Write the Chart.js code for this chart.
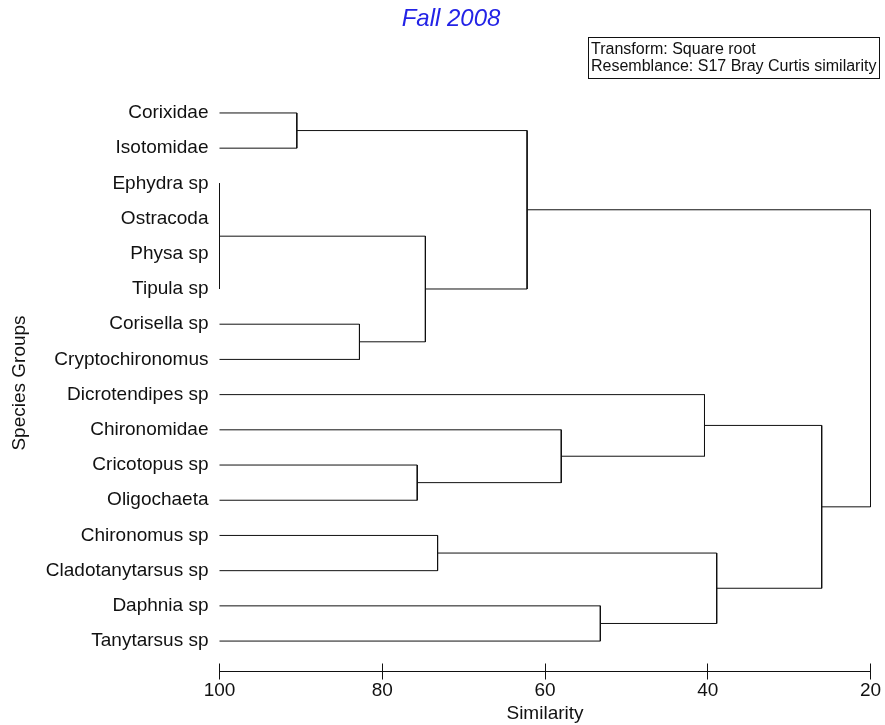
<!DOCTYPE html>
<html>
<head>
<meta charset="utf-8">
<title>Fall 2008</title>
<script src="https://cdn.jsdelivr.net/npm/chart.js@4"></script>
<style>
  html, body { margin: 0; padding: 0; background: #fff; }
  #grafico-wrap { width: 885px; height: 725px; position: relative; }
</style>
</head>
<body>
<div id="grafico-wrap"><canvas id="dendrograma"></canvas></div>
<script>
// folhas do dendrograma, de cima para baixo
const especies = [
    'Corixidae', 'Isotomidae', 'Ephydra sp', 'Ostracoda', 'Physa sp', 'Tipula sp',
    'Corisella sp', 'Cryptochironomus', 'Dicrotendipes sp', 'Chironomidae',
    'Cricotopus sp', 'Oligochaeta', 'Chironomus sp', 'Cladotanytarsus sp',
    'Daphnia sp', 'Tanytarsus sp'
];

// cada fusão junta dois nós (índice < 16 = folha, senão = fusão 16 + k)
const filhoEsq = [2, 4, 16, 0, 6, 18, 19, 10, 9, 8, 12, 14, 26, 25, 22];
const filhoDir = [3, 5, 17, 1, 7, 20, 21, 11, 23, 24, 13, 15, 27, 28, 29];
const similaridade = [100, 100, 100, 90.5, 82.8, 74.7, 62.2, 75.7, 58.0, 40.4, 73.2, 53.2, 38.9, 26.0, 20.0];

const ticksSimilaridade = [100, 80, 60, 40, 20];
const tituloGrafico = 'Fall 2008';
const notaLinhas = ['Transform: Square root', 'Resemblance: S17 Bray Curtis similarity'];

const FONTE = 'Arial, "Liberation Sans", sans-serif';

function montarRamos() {
    const n = especies.length;
    const posY = especies.map((_, i) => i);
    const altura = especies.map(() => 100);
    const ramos = [];

    for (let k = 0; k < similaridade.length; k++) {
        const a = filhoEsq[k];
        const b = filhoDir[k];
        const s = similaridade[k];
        ramos.push({
            label: 'fusao' + k,
            data: [
                { x: altura[a], y: posY[a] },
                { x: s, y: posY[a] },
                { x: s, y: posY[b] },
                { x: altura[b], y: posY[b] }
            ],
            showLine: true,
            borderColor: '#111',
            borderWidth: 1,
            pointRadius: 0,
            tension: 0,
            clip: false
        });
        posY[n + k] = (posY[a] + posY[b]) / 2;
        altura[n + k] = s;
    }
    return ramos;
}

// título e caixa com a transformação usada
const cabecalho = {
    id: 'cabecalho',
    afterDraw(chart) {
        const ctx = chart.ctx;
        ctx.save();
        ctx.fillStyle = '#2323e6';
        ctx.font = 'italic 24px ' + FONTE;
        ctx.textAlign = 'center';
        ctx.textBaseline = 'alphabetic';
        ctx.fillText(tituloGrafico, 451, 26);

        ctx.font = '16px ' + FONTE;
        ctx.textAlign = 'left';
        ctx.fillStyle = '#111';
        ctx.fillText(notaLinhas[0], 591, 54);
        ctx.fillText(notaLinhas[1], 591, 71);
        const larg = Math.max(...notaLinhas.map(t => ctx.measureText(t).width));
        ctx.strokeStyle = '#111';
        ctx.lineWidth = 1;
        ctx.strokeRect(588.5, 37.5, Math.ceil(larg) + 5, 41);
        ctx.restore();
    }
};

// marcas do eixo x cruzando a linha (acima e abaixo)
const marcasEixo = {
    id: 'marcasEixo',
    afterDraw(chart) {
        const esc = chart.scales.x;
        const ctx = chart.ctx;
        const y0 = Math.floor(esc.top) + 0.5;
        ctx.save();
        ctx.strokeStyle = '#111';
        ctx.lineWidth = 1;
        esc.ticks.forEach(t => {
            const px = Math.floor(esc.getPixelForValue(t.value)) + 0.5;
            ctx.beginPath();
            ctx.moveTo(px, y0 - 8);
            ctx.lineTo(px, y0 + 8);
            ctx.stroke();
        });
        ctx.restore();
    }
};

function renderizarDendrograma() {
    const canvas = document.getElementById('dendrograma');
    if (!canvas) return;
    const ctx = canvas.getContext('2d');

    Chart.defaults.font.family = FONTE;
    Chart.defaults.color = '#111';

    if (window.chartDendro) window.chartDendro.destroy();

    window.chartDendro = new Chart(ctx, {
        type: 'scatter',
        plugins: [cabecalho, marcasEixo],
        data: { datasets: montarRamos() },
        options: {
            responsive: true,
            maintainAspectRatio: false,
            animation: false,
            layout: {
                padding: { top: 95, right: 14.5, bottom: 0, left: 0 }
            },
            scales: {
                x: {
                    type: 'linear',
                    min: 20,
                    max: 100,
                    reverse: true,
                    afterBuildTicks: (esc) => { esc.ticks = ticksSimilaridade.map(v => ({ value: v })); },
                    afterFit: (esc) => {
                        esc.height = 54;
                        // os rótulos das pontas cabem no padding do layout
                        esc.paddingLeft = 0;
                        esc.paddingRight = 0;
                    },
                    grid: { display: false, tickLength: 0 },
                    border: { display: true, color: '#111', width: 1 },
                    ticks: { font: { size: 19 }, padding: 8, maxRotation: 0 },
                    title: {
                        display: true,
                        text: 'Similarity',
                        font: { size: 19 },
                        padding: { top: 0, bottom: 0 }
                    }
                },
                y: {
                    type: 'linear',
                    min: -0.51,
                    max: 15.85,
                    reverse: true,
                    afterBuildTicks: (esc) => { esc.ticks = especies.map((_, i) => ({ value: i })); },
                    afterFit: (esc) => { esc.width = 219.5; },
                    grid: { display: false, tickLength: 0 },
                    border: { display: false },
                    ticks: {
                        font: { size: 19 },
                        padding: 11,
                        autoSkip: false,
                        callback: (v) => especies[v]
                    },
                    title: {
                        display: true,
                        text: 'Species Groups',
                        font: { size: 19 },
                        padding: { top: 8, bottom: 0 }
                    }
                }
            },
            plugins: {
                legend: { display: false },
                tooltip: { enabled: false },
                title: { display: false }
            }
        }
    });
}

renderizarDendrograma();
</script>
</body>
</html>
